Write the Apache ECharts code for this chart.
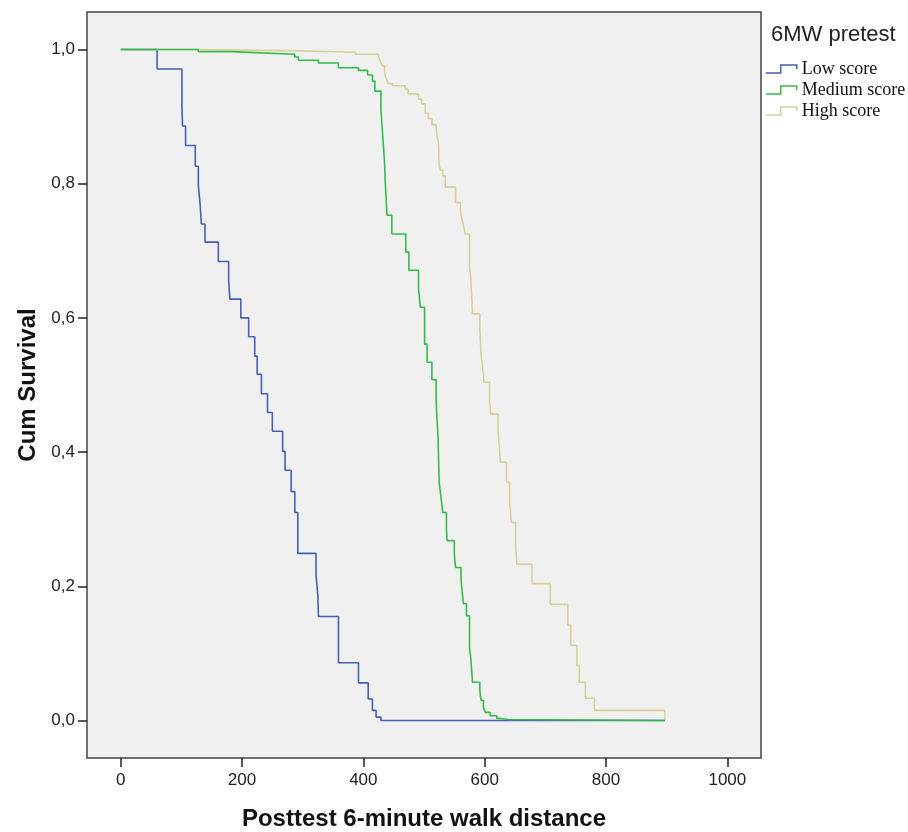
<!DOCTYPE html>
<html>
<head>
<meta charset="utf-8">
<script src="https://cdn.jsdelivr.net/npm/echarts@6/dist/echarts.min.js"></script>
<style>
  html, body { margin: 0; padding: 0; background: #ffffff; }
  #chart { width: 908px; height: 832px; }
</style>
</head>
<body>
<div id="chart"></div>
<script>
// Kaplan-Meier survival by pretest 6MW group (distance in metres, cumulative survival)
const lowDist = [0, 60, 101, 102, 107, 123, 128, 131, 133, 139, 161, 178, 180, 198, 211, 221, 225, 232, 242, 250, 267, 271, 281, 287, 292, 322, 325, 326, 359, 392, 408, 415, 421, 429, 897];
const lowSurv = [1, 0.971, 0.914, 0.886, 0.857, 0.826, 0.798, 0.769, 0.740, 0.713, 0.684, 0.656, 0.628, 0.600, 0.572, 0.543, 0.516, 0.487, 0.459, 0.431, 0.401, 0.373, 0.341, 0.310, 0.249, 0.217, 0.187, 0.155, 0.086, 0.056, 0.032, 0.015, 0.005, 0, 0];

const medDist = [0, 128, 182, 232, 287, 293, 326, 359, 392, 407, 415, 419, 429, 431, 433, 435, 436, 439, 447, 470, 475, 491, 494, 501, 505, 513, 520, 521, 523, 525, 528, 531, 537, 538, 550, 552, 561, 563, 565, 570, 575, 577, 580, 592, 594, 598, 601, 609, 620, 626, 639, 897];
const medSurv = [1, 0.997, 0.995, 0.993, 0.989, 0.984, 0.980, 0.973, 0.969, 0.962, 0.953, 0.938, 0.911, 0.884, 0.858, 0.831, 0.805, 0.753, 0.725, 0.698, 0.671, 0.643, 0.616, 0.561, 0.534, 0.508, 0.480, 0.455, 0.427, 0.355, 0.333, 0.310, 0.286, 0.268, 0.248, 0.228, 0.211, 0.191, 0.174, 0.156, 0.109, 0.094, 0.057, 0.045, 0.030, 0.020, 0.012, 0.007, 0.003, 0.0015, 0, 0];

const highDist = [0, 115, 296, 387, 425, 428, 431, 435, 436, 439, 441, 448, 469, 474, 491, 496, 502, 507, 513, 520, 522, 524, 525, 527, 531, 535, 552, 560, 562, 565, 568, 575, 577, 580, 592, 594, 597, 599, 608, 610, 622, 624, 626, 636, 641, 644, 651, 653, 678, 708, 737, 742, 752, 756, 766, 781, 897];
const highSurv = [1, 0.998, 0.996, 0.993, 0.989, 0.983, 0.976, 0.969, 0.961, 0.954, 0.949, 0.946, 0.941, 0.934, 0.926, 0.919, 0.905, 0.897, 0.888, 0.883, 0.869, 0.859, 0.827, 0.820, 0.812, 0.795, 0.772, 0.760, 0.750, 0.738, 0.725, 0.676, 0.662, 0.606, 0.586, 0.546, 0.524, 0.504, 0.478, 0.457, 0.433, 0.410, 0.385, 0.355, 0.325, 0.295, 0.263, 0.233, 0.204, 0.173, 0.142, 0.112, 0.082, 0.057, 0.033, 0.015, 0];

const groupNames = ['Low score', 'Medium score', 'High score'];
const groupColors = ['#4460b8', '#33bc4a', '#d6d198'];
const xTicks = [0, 200, 400, 600, 800, 1000];
const yTicks = [0, 0.2, 0.4, 0.6, 0.8, 1.0];

function pairs(xs, ys) {
  return xs.map((x, i) => [x, ys[i]]);
}

// small step-shaped legend glyph
const stepIcon = 'path://M0,9 L15,9 L15,1 L31,1 L31,5';

function kmSeries(name, color, xs, ys, z) {
  return {
    name: name,
    type: 'line',
    step: 'end',
    showSymbol: false,
    symbol: 'none',
    z: z,
    animation: false,
    lineStyle: { color: color, width: 1.6 },
    itemStyle: { color: color },
    data: pairs(xs, ys)
  };
}

const chart = echarts.init(document.getElementById('chart'), null, { renderer: 'canvas' });

chart.setOption({
  animation: false,
  backgroundColor: '#ffffff',
  title: {
    text: '6MW pretest',
    left: 771,
    top: 24,
    padding: 0,
    textStyle: { fontFamily: 'Liberation Sans, Arial, sans-serif', fontSize: 22, fontWeight: 'normal', color: '#222222' }
  },
  legend: {
    data: groupNames.map((n, i) => ({
      name: n,
      icon: stepIcon,
      itemStyle: { color: 'rgba(0,0,0,0)', borderColor: groupColors[i], borderWidth: 1.5 }
    })),
    orient: 'vertical',
    left: 765,
    top: 60,
    padding: 0,
    itemGap: 3,
    itemWidth: 31,
    itemHeight: 10,
    textStyle: { fontFamily: 'Liberation Serif, Times New Roman, serif', fontSize: 18, color: '#111111' },
    selectedMode: false
  },
  grid: {
    show: true,
    left: 87,
    right: 147,
    top: 12,
    bottom: 74,
    outerBoundsMode: 'none',
    backgroundColor: '#f0f0f0',
    borderColor: '#444444',
    borderWidth: 1.5,
    containLabel: false
  },
  xAxis: {
    type: 'value',
    min: -55.5,
    max: 1055.5,
    name: 'Posttest 6-minute walk distance',
    nameLocation: 'middle',
    nameGap: 49,
    nameTextStyle: { fontFamily: 'Liberation Sans, Arial, sans-serif', fontSize: 24, fontWeight: 'bold', color: '#111111' },
    axisLine: { show: false, onZero: false },
    axisTick: { show: true, customValues: xTicks, length: 9, lineStyle: { color: '#222222', width: 1.5 } },
    axisLabel: {
      customValues: xTicks,
      margin: 14,
      fontFamily: 'Liberation Sans, Arial, sans-serif',
      fontSize: 17,
      color: '#222222',
      formatter: v => String(v)
    },
    splitLine: { show: false }
  },
  yAxis: {
    type: 'value',
    min: -0.056,
    max: 1.056,
    name: 'Cum Survival',
    nameLocation: 'middle',
    nameGap: 46,
    nameTextStyle: { fontFamily: 'Liberation Sans, Arial, sans-serif', fontSize: 24, fontWeight: 'bold', color: '#111111' },
    axisLine: { show: false, onZero: false },
    axisTick: { show: true, customValues: yTicks, length: 9, lineStyle: { color: '#222222', width: 1.5 } },
    axisLabel: {
      customValues: yTicks,
      margin: 12,
      fontFamily: 'Liberation Sans, Arial, sans-serif',
      fontSize: 17,
      color: '#222222',
      formatter: v => v.toFixed(1).replace('.', ',')
    },
    splitLine: { show: false }
  },
  series: [
    kmSeries(groupNames[0], groupColors[0], lowDist, lowSurv, 2),
    kmSeries(groupNames[1], groupColors[1], medDist, medSurv, 4),
    kmSeries(groupNames[2], groupColors[2], highDist, highSurv, 3)
  ]
});
</script>
</body>
</html>
